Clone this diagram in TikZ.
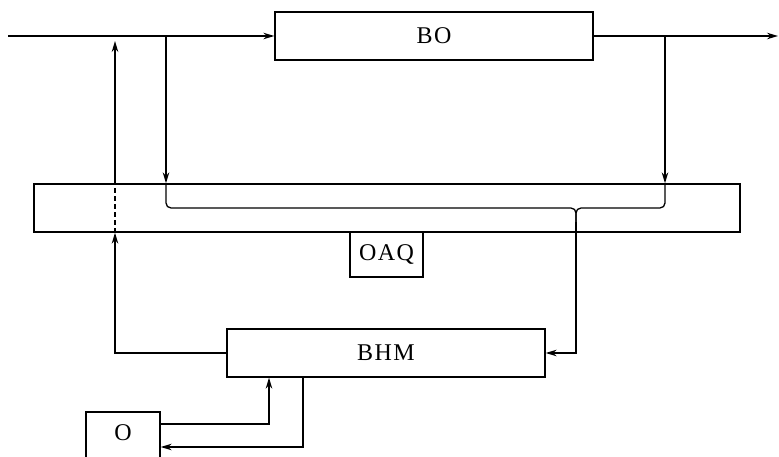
\documentclass[tikz,border=0pt]{standalone}
\usepackage{fontspec}
\newfontfamily\lab[LetterSpace=6]{Liberation Serif}
\usetikzlibrary{arrows.meta}
\begin{document}
\begin{tikzpicture}[x=1pt,y=-1pt,
  line width=1.3pt,
  box/.style={draw,rectangle,inner sep=0pt,font=\lab\fontsize{24}{24}\selectfont},
  arr/.style={-{Stealth[length=11pt,width=6.5pt]}}]
\useasboundingbox (0,0) rectangle (779,457);
% nodes
\node[box,minimum width=318pt,minimum height=48pt] (BO) at (434,36) {BO};
\node[box,minimum width=706pt,minimum height=48pt] (big) at (387,208) {};
\node[box,minimum width=73pt,minimum height=45pt] (OAQ) at (386.5,254.5) {OAQ};
\node[box,minimum width=318pt,minimum height=48pt] (BHM) at (386,353) {BHM};
\node[box,minimum width=74pt,text height=28pt,text depth=30pt] (O) at (123,441) {O};
% coordinates
\coordinate (in) at (8,36);
\coordinate (out) at (778,36);
\coordinate (j1) at (166,36);
\coordinate (j2) at (665,36);
\coordinate (j3) at (576,208);
\coordinate (j4) at (576,222);
\coordinate (lk) at (115,353);
\coordinate (up) at (115,41);
\coordinate (a1) at (269,424);
\coordinate (b1) at (303,447);
% connectors
\draw[arr] (in) -- (BO.west);
\draw[arr] (BO.east) -- (out);
\draw[arr] (j1) -- (j1 |- big.north);
\draw[arr] (j2) -- (j2 |- big.north);
\draw[rounded corners=5pt] (j1 |- big.north) -- (j1 |- j3) -- (j3) -- (j4);
\draw[rounded corners=5pt] (j2 |- big.north) -- (j2 |- j3) -- (j3) -- (j4);
\draw[arr] (j4) -- (j4 |- BHM.east) -- (BHM.east);
\draw[arr] (BHM.west) -- (lk) -- (lk |- big.south);
\draw[dash pattern=on 5pt off 3pt] (lk |- big.south) -- (lk |- big.north);
\draw[arr] (lk |- big.north) -- (up);
\draw[arr] (O.east |- a1) -- (a1) -- (a1 |- BHM.south);
\draw[arr] (b1 |- BHM.south) -- (b1) -- (O.east |- b1);
\end{tikzpicture}
\end{document}
